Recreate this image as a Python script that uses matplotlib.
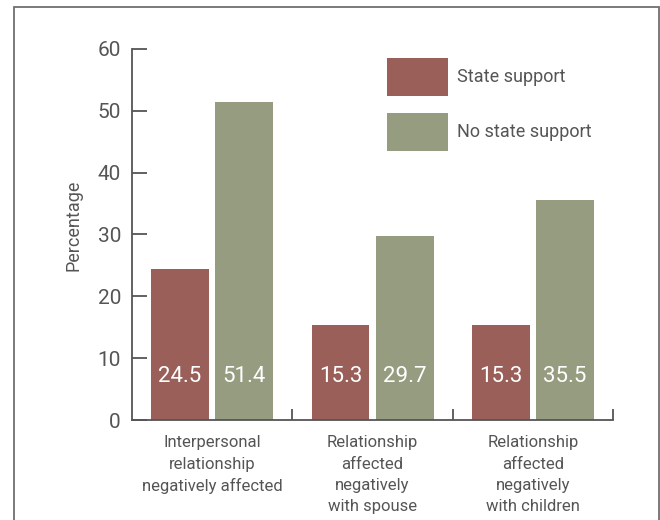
import numpy as np
import matplotlib
matplotlib.use('Agg')
import matplotlib.pyplot as plt
from matplotlib.patches import Rectangle

plt.rcParams['font.family'] = ['Liberation Sans Narrow', 'DejaVu Sans Condensed', 'Roboto', 'DejaVu Sans']

categories = ['Interpersonal\nrelationship\nnegatively affected',
              'Relationship\naffected\nnegatively\nwith spouse',
              'Relationship\naffected\nnegatively\nwith children']
state_support = [24.5, 15.3, 15.3]
no_state_support = [51.4, 29.7, 35.5]
series_names = ['State support', 'No state support']
yticks = [0, 10, 20, 30, 40, 50, 60]

red = '#9a5f58'
green = '#959c80'
grey = '#555555'

fig = plt.figure(figsize=(6.6, 5.2), dpi=100)
ax = fig.add_axes([0.2, 0.1923, 0.729, 0.7135])

x = np.arange(len(categories)) + 0.5
w = 0.36
off = 0.2
b1 = ax.bar(x - off, state_support, w, color=red, label=series_names[0])
b2 = ax.bar(x + off, no_state_support, w, color=green, label=series_names[1])

for bars, vals in ((b1, state_support), (b2, no_state_support)):
    for b, v in zip(bars, vals):
        ax.text(b.get_x() + b.get_width() / 2, 7, f'{v:.1f}', color='white',
                ha='center', va='center', fontsize=16)

ax.set_xlim(0, 3)
ax.set_ylim(0, 60)
ax.set_yticks(yticks)
ax.set_xticks([1, 2, 3])
ax.set_xticklabels([])
ax.set_xticks(x, minor=True)
ax.set_xticklabels(categories, minor=True, fontsize=12, color=grey, linespacing=1.52, va='top')
ax.tick_params(axis='x', which='minor', length=0, pad=11)
ax.tick_params(axis='x', which='major', direction='in', length=8, width=1.3, color=grey)
ax.tick_params(axis='y', direction='in', length=11, width=1.3, color=grey,
               labelsize=15, labelcolor=grey, pad=8)

for s in ['top', 'right']:
    ax.spines[s].set_visible(False)
for s in ['left', 'bottom']:
    ax.spines[s].set_color(grey)
    ax.spines[s].set_linewidth(1.3)

ax.set_ylabel('Percentage', fontsize=13, color=grey)
ax.yaxis.set_label_coords(-0.102, 0.526)

ax.legend(loc='upper left', bbox_to_anchor=(387 / 660, 1 - 58 / 520),
          bbox_transform=fig.transFigure, frameon=False, fontsize=13,
          handlelength=3.4, handleheight=2.86, labelspacing=0.94,
          handletextpad=0.5, borderpad=0, borderaxespad=0, labelcolor=grey)

# outer frame running off the bottom edge
fig.add_artist(Rectangle((14 / 660, -0.1), 645 / 660, 1.1 - 7 / 520,
                         transform=fig.transFigure, fill=False,
                         edgecolor='#707070', lw=1.3))

fig.savefig('out.png', dpi=100)
